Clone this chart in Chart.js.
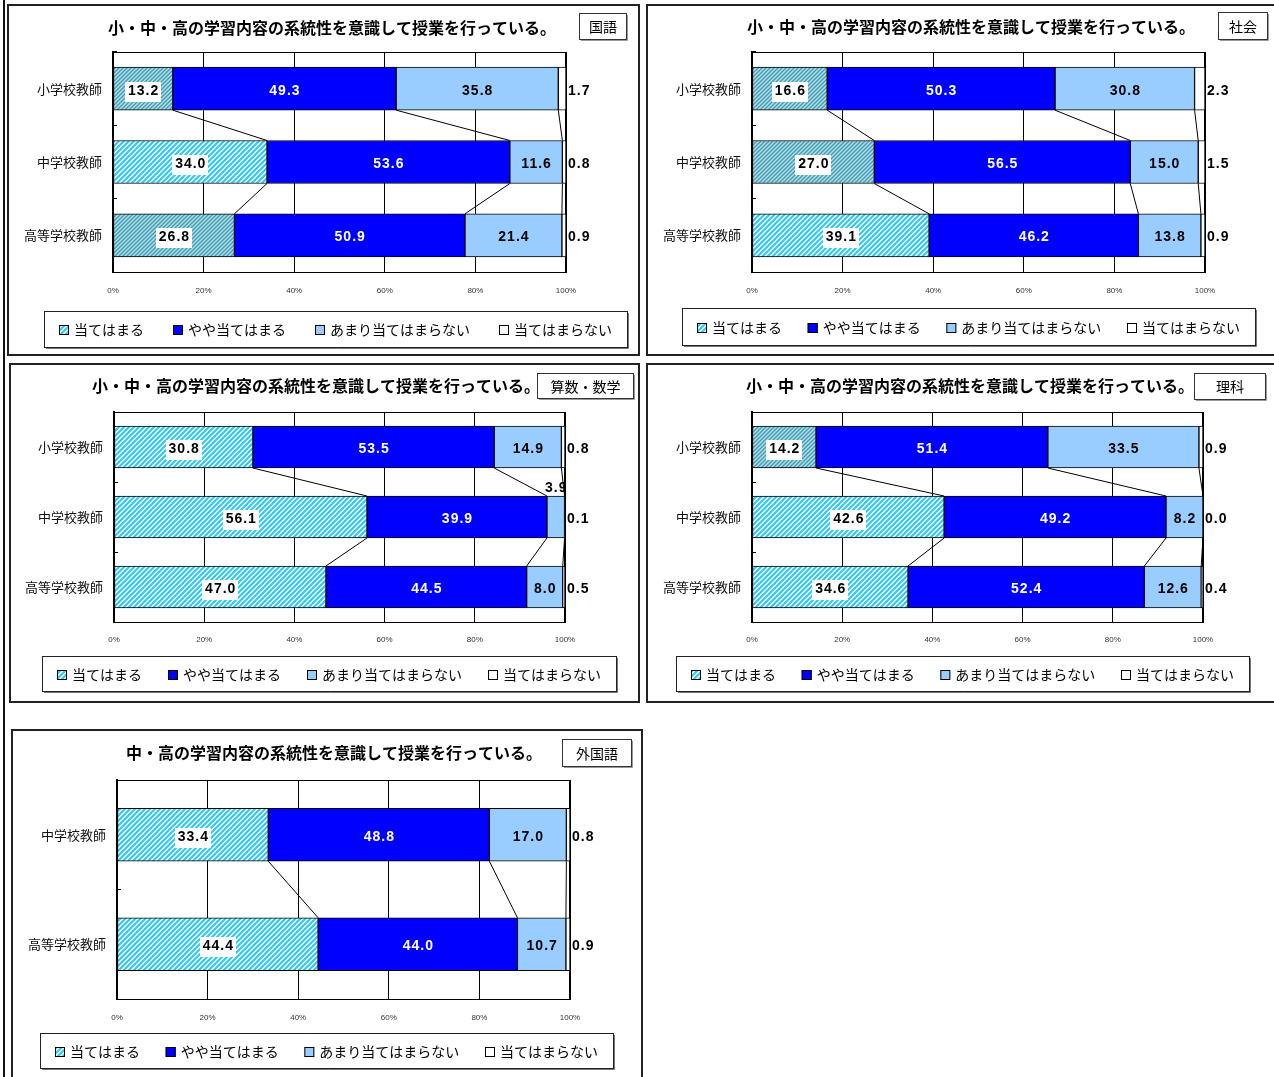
<!DOCTYPE html>
<html lang="ja">
<head>
<meta charset="utf-8">
<title>学習内容の系統性を意識した授業</title>
<script src="https://cdn.jsdelivr.net/npm/chart.js@4.4.1/dist/chart.umd.min.js"></script>
<style>
  html, body { margin: 0; padding: 0; background: #fff; }
  body { width: 1274px; height: 1077px; position: relative; overflow: hidden; }
  .edge { position: absolute; left: 3px; top: 0; width: 2px; height: 1077px; background: #111; }
  .panel { position: absolute; border: 2px solid #222; background: #fff; }
  .panel canvas { display: block; }
</style>
</head>
<body>
<div class="edge"></div>
<div class="panel" style="left:7px;top:4px;width:629px;height:348px"><canvas id="c1" width="629" height="348"></canvas></div>
<div class="panel" style="left:646px;top:4px;width:640px;height:348px"><canvas id="c2" width="640" height="348"></canvas></div>
<div class="panel" style="left:9px;top:363px;width:627px;height:336px"><canvas id="c3" width="627" height="336"></canvas></div>
<div class="panel" style="left:646px;top:363px;width:640px;height:336px"><canvas id="c4" width="640" height="336"></canvas></div>
<div class="panel" style="left:11px;top:729px;width:628px;height:360px"><canvas id="c5" width="628" height="360"></canvas></div>

<script>
// ---- data (percent) ----
const schoolsAll = ['小学校教師', '中学校教師', '高等学校教師'];
const schoolsJH = ['中学校教師', '高等学校教師'];
const seriesNames = ['当てはまる', 'やや当てはまる', 'あまり当てはまらない', '当てはまらない'];
const xTicks = [0, 20, 40, 60, 80, 100];

const titleAll = '小・中・高の学習内容の系統性を意識して授業を行っている。';
const titleJH = '中・高の学習内容の系統性を意識して授業を行っている。';

// 国語
const kokugoApply = [13.2, 34.0, 26.8];
const kokugoSomewhat = [49.3, 53.6, 50.9];
const kokugoNotMuch = [35.8, 11.6, 21.4];
const kokugoNot = [1.7, 0.8, 0.9];
// 社会
const shakaiApply = [16.6, 27.0, 39.1];
const shakaiSomewhat = [50.3, 56.5, 46.2];
const shakaiNotMuch = [30.8, 15.0, 13.8];
const shakaiNot = [2.3, 1.5, 0.9];
// 算数・数学
const sansuApply = [30.8, 56.1, 47.0];
const sansuSomewhat = [53.5, 39.9, 44.5];
const sansuNotMuch = [14.9, 3.9, 8.0];
const sansuNot = [0.8, 0.1, 0.5];
// 理科
const rikaApply = [14.2, 42.6, 34.6];
const rikaSomewhat = [51.4, 49.2, 52.4];
const rikaNotMuch = [33.5, 8.2, 12.6];
const rikaNot = [0.9, 0.0, 0.4];
// 外国語
const gaikokugoApply = [33.4, 44.4];
const gaikokugoSomewhat = [48.8, 44.0];
const gaikokugoNotMuch = [17.0, 10.7];
const gaikokugoNot = [0.8, 0.9];

// ---- styles ----
const JP = '"Noto Sans CJK JP", "Noto Sans", sans-serif';
const labelFont = 'bold 14px "Liberation Sans", Arial, sans-serif';

function makeHatch(bg, fg, size, lw) {
  const c = document.createElement('canvas');
  c.width = c.height = size;
  const g = c.getContext('2d');
  g.fillStyle = bg;
  g.fillRect(0, 0, size, size);
  g.strokeStyle = fg;
  g.lineWidth = lw;
  g.beginPath();
  g.moveTo(-1, size + 1); g.lineTo(size + 1, -1);
  g.moveTo(-1, 1); g.lineTo(1, -1);
  g.moveTo(size - 1, size + 1); g.lineTo(size + 1, size - 1);
  g.stroke();
  return g.createPattern(c, 'repeat');
}
const hatchLight = makeHatch('#ffffff', '#33c8f5', 5, 2.2);
const hatchDark = makeHatch('#b0e2ee', '#4a9cb0', 4, 1.5);
const seriesFill = [hatchLight, '#0000ff', '#99ccff', '#ffffff'];

// plot frame (top + right edges)
const framePlugin = {
  id: 'frame',
  beforeDatasetsDraw(chart) {
    const { ctx, chartArea: a } = chart;
    ctx.save();
    ctx.strokeStyle = '#000';
    ctx.lineWidth = 1;
    ctx.beginPath();
    ctx.moveTo(a.left, Math.round(a.top) + 0.5);
    ctx.lineTo(a.right, Math.round(a.top) + 0.5);
    ctx.moveTo(Math.round(a.right) - 0.5, a.top);
    ctx.lineTo(Math.round(a.right) - 0.5, a.bottom);
    ctx.stroke();
    ctx.restore();
  }
};

// lines joining segment boundaries of neighbouring bars
const connectorPlugin = {
  id: 'connectors',
  afterDatasetsDraw(chart) {
    const { ctx } = chart;
    const n = chart.data.labels.length;
    ctx.save();
    ctx.strokeStyle = '#000';
    ctx.lineWidth = 1;
    ctx.beginPath();
    for (let k = 0; k < 3; k++) {
      const meta = chart.getDatasetMeta(k);
      for (let i = 0; i < n - 1; i++) {
        const a = meta.data[i].getProps(['x', 'y', 'height'], true);
        const b = meta.data[i + 1].getProps(['x', 'y', 'height'], true);
        ctx.moveTo(a.x, a.y + a.height / 2);
        ctx.lineTo(b.x, b.y - b.height / 2);
      }
    }
    ctx.stroke();
    ctx.restore();
  }
};

const valuePlugin = {
  id: 'values',
  afterDatasetsDraw(chart) {
    const { ctx, chartArea: area } = chart;
    ctx.save();
    ctx.font = labelFont;
    ctx.letterSpacing = '1px';
    ctx.textBaseline = 'middle';
    chart.data.datasets.forEach((ds, k) => {
      chart.getDatasetMeta(k).data.forEach((el, i) => {
        const p = el.getProps(['x', 'base', 'y', 'height'], true);
        const txt = ds.data[i].toFixed(1);
        const y = p.y + 2;
        const cx = (p.x + p.base) / 2 + 0.5;
        if (k === 3) {
          ctx.textAlign = 'left';
          ctx.fillStyle = '#000';
          ctx.fillText(txt, area.right + 2, y);
          return;
        }
        ctx.textAlign = 'center';
        if (k === 0) {
          const w = ctx.measureText(txt).width + 5;
          ctx.fillStyle = '#fff';
          ctx.fillRect(Math.round(cx - w / 2 - 0.5), Math.round(y - 9), Math.round(w), 20);
          ctx.fillStyle = '#000';
          ctx.fillText(txt, cx, y);
        } else if (k === 1) {
          ctx.fillStyle = '#fff';
          ctx.fillText(txt, cx, y);
        } else {
          ctx.fillStyle = '#000';
          if (ds.data[i] < 5) {
            ctx.textBaseline = 'bottom';
            ctx.fillText(txt, cx, p.y - p.height / 2 - 1);
            ctx.textBaseline = 'middle';
          } else {
            ctx.fillText(txt, cx, y);
          }
        }
      });
    });
    ctx.restore();
  }
};

// title, subject box and boxed legend
const decoPlugin = {
  id: 'deco',
  afterDraw(chart) {
    const { ctx } = chart;
    const o = chart.options.plugins.deco;
    ctx.save();
    ctx.fillStyle = '#000';
    ctx.font = 'bold 16px ' + JP;
    ctx.textAlign = 'center';
    ctx.textBaseline = 'middle';
    ctx.fillText(o.title, o.titleX, o.titleY);

    const s = o.subject;
    ctx.strokeStyle = '#333';
    ctx.lineWidth = 1;
    ctx.strokeRect(s.x + 0.5, s.y + 0.5, s.w, s.h);
    ctx.strokeStyle = '#999';
    ctx.beginPath();
    ctx.moveTo(s.x + 2, s.y + s.h + 1.5); ctx.lineTo(s.x + s.w + 1.5, s.y + s.h + 1.5);
    ctx.lineTo(s.x + s.w + 1.5, s.y + 2);
    ctx.stroke();
    ctx.font = '14px ' + JP;
    ctx.fillStyle = '#000';
    ctx.fillText(s.text, s.x + s.w / 2 + 0.5, s.y + s.h / 2 + 1);

    const L = o.legend;
    ctx.strokeStyle = '#222';
    ctx.strokeRect(L.x + 0.5, L.y + 0.5, L.w, L.h);
    ctx.strokeStyle = '#777';
    ctx.beginPath();
    ctx.moveTo(L.x + 2, L.y + L.h + 1.5); ctx.lineTo(L.x + L.w + 1.5, L.y + L.h + 1.5);
    ctx.lineTo(L.x + L.w + 1.5, L.y + 2);
    ctx.stroke();

    ctx.font = '14px ' + JP;
    ctx.textAlign = 'left';
    const items = chart.data.datasets.map((ds, k) => ({ label: ds.label, fill: seriesFill[k] }));
    const widths = items.map(it => 15 + ctx.measureText(it.label).width);
    const total = widths.reduce((a, b) => a + b, 0);
    const margin = 15;
    const gap = (L.w - 2 * margin - total) / (items.length - 1);
    let x = L.x + margin;
    const cy = L.y + L.h / 2 + 1;
    items.forEach((it, k) => {
      ctx.fillStyle = it.fill;
      ctx.fillRect(x, Math.round(cy - 5), 10, 10);
      ctx.strokeStyle = '#000';
      ctx.strokeRect(x + 0.5, Math.round(cy - 5) + 0.5, 9, 9);
      ctx.fillStyle = '#000';
      ctx.fillText(it.label, x + 15, cy);
      x += widths[k] + gap;
    });
    ctx.restore();
  }
};

const panels = [
  { id: 'c1', title: titleAll, titleX: 323, titleY: 22, cats: schoolsAll,
    series: [kokugoApply, kokugoSomewhat, kokugoNotMuch, kokugoNot], dark: [true, false, true],
    plot: { l: 104, r: 557, t: 46, b: 266 }, bar: 43, xLab: 14,
    subject: { x: 570, y: 7, w: 47, h: 26, text: '国語' }, legend: { x: 35, y: 305, w: 583, h: 36 } },
  { id: 'c2', title: titleAll, titleX: 323, titleY: 21, cats: schoolsAll,
    series: [shakaiApply, shakaiSomewhat, shakaiNotMuch, shakaiNot], dark: [true, true, false],
    plot: { l: 104, r: 557, t: 46, b: 266 }, bar: 43, xLab: 14,
    subject: { x: 570, y: 6, w: 49, h: 27, text: '社会' }, legend: { x: 34, y: 302, w: 573, h: 37 } },
  { id: 'c3', title: titleAll, titleX: 305, titleY: 21, cats: schoolsAll,
    series: [sansuApply, sansuSomewhat, sansuNotMuch, sansuNot], dark: [false, false, false],
    plot: { l: 103, r: 554, t: 47, b: 257 }, bar: 42, xLab: 13,
    subject: { x: 526, y: 8, w: 96, h: 25, text: '算数・数学' }, legend: { x: 31, y: 291, w: 574, h: 35 } },
  { id: 'c4', title: titleAll, titleX: 322, titleY: 21, cats: schoolsAll,
    series: [rikaApply, rikaSomewhat, rikaNotMuch, rikaNot], dark: [true, false, false],
    plot: { l: 104, r: 555, t: 47, b: 257 }, bar: 42, xLab: 13,
    subject: { x: 546, y: 8, w: 71, h: 26, text: '理科' }, legend: { x: 28, y: 291, w: 573, h: 35 } },
  { id: 'c5', title: titleJH, titleX: 321, titleY: 22, cats: schoolsJH,
    series: [gaikokugoApply, gaikokugoSomewhat, gaikokugoNotMuch, gaikokugoNot], dark: [false, false],
    plot: { l: 104, r: 557, t: 49, b: 268 }, bar: 53, xLab: 14,
    subject: { x: 549, y: 8, w: 69, h: 27, text: '外国語' }, legend: { x: 27, y: 302, w: 573, h: 35 } }
];

panels.forEach(p => {
  const cv = document.getElementById(p.id);
  const W = cv.width, H = cv.height;
  new Chart(cv, {
    type: 'bar',
    data: {
      labels: p.cats,
      datasets: seriesNames.map((name, k) => ({
        label: name,
        data: p.series[k],
        backgroundColor: k === 0 ? p.dark.map(d => d ? hatchDark : hatchLight) : seriesFill[k],
        borderColor: '#000',
        borderWidth: 1,
        borderSkipped: false,
        barThickness: p.bar
      }))
    },
    options: {
      indexAxis: 'y',
      responsive: false,
      animation: false,
      events: [],
      layout: { padding: { top: p.plot.t, right: W - p.plot.r, left: 0, bottom: 0 } },
      scales: {
        x: {
          stacked: true,
          min: 0,
          max: 100,
          afterBuildTicks: s => { s.ticks = xTicks.map(v => ({ value: v })); },
          afterFit: s => { s.height = H - p.plot.b; },
          ticks: { callback: v => v + '%', font: { size: 8, family: '"Liberation Sans", Arial' }, color: '#333', padding: p.xLab, maxRotation: 0 },
          grid: { color: '#000', lineWidth: 1, drawTicks: false },
          border: { color: '#000', width: 1 }
        },
        y: {
          stacked: true,
          afterFit: s => { s.width = p.plot.l; },
          ticks: { font: { size: 13, family: JP }, color: '#111', padding: 15 },
          grid: { offset: true, drawOnChartArea: false, tickLength: -4, color: '#000' },
          border: { color: '#000', width: 2 }
        }
      },
      plugins: {
        legend: { display: false },
        tooltip: { enabled: false },
        deco: { title: p.title, titleX: p.titleX, titleY: p.titleY, subject: p.subject, legend: p.legend }
      }
    },
    plugins: [framePlugin, connectorPlugin, valuePlugin, decoPlugin]
  });
});
</script>
</body>
</html>
